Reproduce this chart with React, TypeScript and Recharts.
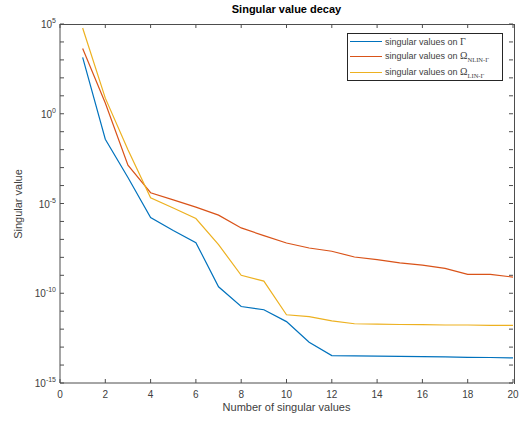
import { LineChart, Line, XAxis, YAxis } from 'recharts';

// number of singular value
const ns = [1, 2, 3, 4, 5, 6, 7, 8, 9, 10, 11, 12, 13, 14, 15, 16, 17, 18, 19, 20];
// log10 of the singular values
const gammaExp = [3.14, -1.42, -3.55, -5.78, -6.5, -7.18, -9.64, -10.74, -10.92, -11.58, -12.73, -13.47, -13.49, -13.5, -13.52, -13.53, -13.55, -13.57, -13.58, -13.6];
const nlinExp = [3.64, 0.6, -2.86, -4.4, -4.8, -5.2, -5.65, -6.36, -6.79, -7.2, -7.48, -7.66, -7.98, -8.13, -8.31, -8.43, -8.61, -8.95, -8.95, -9.1];
const linExp = [4.78, 0.87, -2.0, -4.68, -5.25, -5.84, -7.29, -9.0, -9.32, -11.2, -11.3, -11.54, -11.7, -11.72, -11.74, -11.75, -11.77, -11.77, -11.79, -11.79];

const xTicks = [0, 2, 4, 6, 8, 10, 12, 14, 16, 18, 20];
const yTickExps = [-15, -14, -13, -12, -11, -10, -9, -8, -7, -6, -5, -4, -3, -2, -1, 0, 1, 2, 3, 4, 5];

const data = ns.map((n, i) => ({
  n,
  gamma: Math.pow(10, gammaExp[i]),
  nlin: Math.pow(10, nlinExp[i]),
  lin: Math.pow(10, linExp[i]),
}));
const yTicks = yTickExps.map((e) => Math.pow(10, e));

const W = 525;
const H = 423;
const MARGIN = { top: 24, right: 12, left: 0, bottom: 0 };
const Y_AXIS_W = 60;
const X_AXIS_H = 40;
// plot box size, used to mirror the ticks on the top / right edges
const PLOT_W = W - MARGIN.left - MARGIN.right - Y_AXIS_W;
const PLOT_H = H - MARGIN.top - MARGIN.bottom - X_AXIS_H;

const AXIS = '#4d4d4d';
const TEXT = '#404040';
const FONT = '"Liberation Sans", Arial, sans-serif';

const BLUE = '#0072BD';
const ORANGE = '#D95319';
const YELLOW = '#EDB120';

function LeftTick(props: any) {
  const x = Number(props.x);
  const y = Number(props.y);
  const e = Math.round(Math.log10(props.payload.value));
  const right = x + PLOT_W;
  return (
    <g>
      <path d={`M${x},${y}H${x + 4}M${right},${y}H${right - 4}`} stroke={AXIS} fill="none" />
      {e % 5 === 0 && (
        <text x={x - 4} y={y + 4} textAnchor="end" fill={TEXT} fontSize={10} fontFamily={FONT}>
          <tspan>10</tspan>
          <tspan dy={-5} fontSize={7}>{e}</tspan>
        </text>
      )}
    </g>
  );
}

function BottomTick(props: any) {
  const x = Number(props.x);
  const y = Number(props.y);
  const top = y - PLOT_H;
  return (
    <g>
      <path d={`M${x},${y}V${y - 4}M${x},${top}V${top + 4}`} stroke={AXIS} fill="none" />
      <text x={x} y={y + 15} textAnchor="middle" fill={TEXT} fontSize={10} fontFamily={FONT}>
        {props.payload.value}
      </text>
    </g>
  );
}

function LegendBox() {
  const rows = [
    { color: BLUE, sub: '' },
    { color: ORANGE, sub: 'NLIN-Γ' },
    { color: YELLOW, sub: 'LIN-Γ' },
  ];
  return (
    <div
      style={{
        position: 'absolute',
        left: 347,
        top: 33,
        border: '1px solid #262626',
        background: '#fff',
        width: 152,
        height: 46,
        paddingLeft: 2,
        fontFamily: FONT,
        fontSize: 9,
        color: TEXT,
      }}
    >
      {rows.map((r, i) => (
        <div key={i} style={{ display: 'flex', alignItems: 'center', height: i === 2 ? 17 : 15, whiteSpace: 'nowrap' }}>
          <span style={{ display: 'inline-block', width: 32, height: 0, borderTop: `1.3px solid ${r.color}`, marginRight: 3 }} />
          <span>
            singular values on{' '}
            {r.sub ? (
              <>
                <span style={{ fontFamily: '"Liberation Serif", serif', fontSize: 10 }}>Ω</span>
                <sub style={{ fontSize: 6.5, fontFamily: '"Liberation Serif", serif' }}>{r.sub}</sub>
              </>
            ) : (
              <span style={{ fontFamily: '"Liberation Serif", serif', fontSize: 10 }}>Γ</span>
            )}
          </span>
        </div>
      ))}
    </div>
  );
}

export default function App() {
  return (
    <div style={{ position: 'absolute', left: 0, top: 0, width: W, height: H, background: '#fff' }}>
      <LineChart width={W} height={H} data={data} margin={MARGIN}>
        <XAxis
          dataKey="n"
          type="number"
          domain={[0, 20]}
          ticks={xTicks}
          interval={0}
          tickSize={0}
          tickMargin={0}
          height={X_AXIS_H}
          stroke={AXIS}
          tick={<BottomTick />}
        />
        <YAxis
          scale="log"
          type="number"
          domain={[1e-15, 1e5]}
          allowDataOverflow
          ticks={yTicks}
          interval={0}
          tickSize={0}
          tickMargin={0}
          width={Y_AXIS_W}
          stroke={AXIS}
          tick={<LeftTick />}
        />
        <Line type="linear" dataKey="gamma" stroke={BLUE} strokeWidth={1.2} dot={false} isAnimationActive={false} />
        <Line type="linear" dataKey="nlin" stroke={ORANGE} strokeWidth={1.2} dot={false} isAnimationActive={false} />
        <Line type="linear" dataKey="lin" stroke={YELLOW} strokeWidth={1.2} dot={false} isAnimationActive={false} />
      </LineChart>
      {/* top and right edges of the axes box */}
      <div
        style={{
          position: 'absolute',
          left: Y_AXIS_W + MARGIN.left,
          top: MARGIN.top - 0.5,
          width: PLOT_W + 0.5,
          height: PLOT_H,
          borderTop: `1px solid ${AXIS}`,
          borderRight: `1px solid ${AXIS}`,
          pointerEvents: 'none',
        }}
      />
      <div
        style={{
          position: 'absolute', left: 60, width: 453, top: 3, textAlign: 'center',
          fontFamily: FONT, fontSize: 11, fontWeight: 'bold', color: '#000',
        }}
      >
        Singular value decay
      </div>
      <div
        style={{
          position: 'absolute', left: 60, width: 453, top: 401, textAlign: 'center',
          fontFamily: FONT, fontSize: 11, color: TEXT,
        }}
      >
        Number of singular values
      </div>
      <div
        style={{
          position: 'absolute', left: 18, top: 204, transform: 'translate(-50%, -50%) rotate(-90deg)',
          fontFamily: FONT, fontSize: 11, color: TEXT, whiteSpace: 'nowrap',
        }}
      >
        Singular value
      </div>
      <LegendBox />
    </div>
  );
}
